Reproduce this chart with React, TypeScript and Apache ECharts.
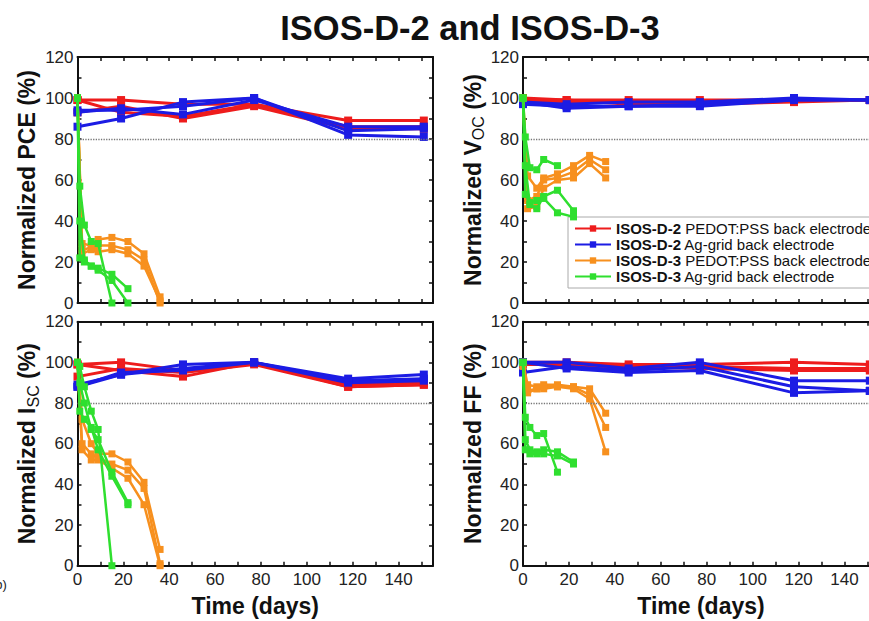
import React, { useEffect, useRef } from 'react';
import * as echarts from 'echarts';

// Time points (days)
const d2Days = [0, 19, 46, 77, 118, 151];
const d3PedotDays = [0, 2, 6, 9, 15, 22, 29, 36];
const d3AgDays = [0, 1, 3, 6, 9, 15, 22];

const groupNames = [
  'ISOS-D-2 PEDOT:PSS back electrode',
  'ISOS-D-2 Ag-grid back electrode',
  'ISOS-D-3 PEDOT:PSS back electrode',
  'ISOS-D-3 Ag-grid back electrode',
];
const groupColors = ['#ee1c1c', '#1c1ce4', '#f7901e', '#2fdf2f'];

// Normalized PCE (%)
const pceD2Pedot = [[99, 99, 97, 97, 89, 89], [99, 93, 91, 97, 86, 86], [93, 96, 90, 96, 85, 85]];
const pceD2Ag = [[86, 90, 98, 100, 82, 81], [94, 94, 96, 100, 84, 85], [93, 95, 92, 99, 86, 86]];
const pceD3Pedot = [[100, 29, 28, 31, 32, 30, 24, 3], [100, 26, 27, 28, 28, 26, 21, 0], [100, 24, 26, 25, 26, 24, 18, 1]];
const pceD3Ag = [[100, 57, 38, 30, 29, 0], [100, 40, 21, 18, 17, 14, 7], [100, 22, 20, 18, 16, 11, 0]];

// Normalized Voc (%)
const vocD2Pedot = [[100, 99, 99, 99, 99, 99], [99, 98, 98, 98, 99, 99], [99, 99, 97, 97, 98, 99]];
const vocD2Ag = [[98, 95, 96, 96, 99, 99], [97, 96, 96, 97, 99, 99], [98, 97, 98, 98, 100, 99]];
const vocD3Pedot = [[100, 62, 56, 61, 63, 67, 72, 69], [100, 50, 52, 60, 61, 64, 70, 65], [100, 46, 47, 56, 60, 61, 68, 61]];
const vocD3Ag = [[100, 81, 66, 65, 70, 67], [100, 67, 48, 46, 52, 55, 45], [100, 53, 49, 50, 51, 44, 42]];

// Normalized Isc (%)
const iscD2Pedot = [[99, 100, 96, 100, 89, 90], [99, 96, 93, 100, 88, 89], [93, 97, 95, 99, 88, 89]];
const iscD2Ag = [[88, 94, 99, 100, 92, 94], [89, 94, 97, 100, 91, 92], [88, 95, 96, 100, 90, 91]];
const iscD3Pedot = [[100, 72, 60, 55, 55, 51, 41, 8], [100, 60, 55, 53, 50, 47, 38, 1], [100, 57, 52, 52, 48, 43, 30, 0]];
const iscD3Ag = [[100, 98, 88, 76, 67, 0], [100, 90, 80, 67, 62, 46, 31], [100, 76, 72, 68, 57, 44, 30]];

// Normalized FF (%)
const ffD2Pedot = [[100, 100, 99, 99, 100, 99], [99, 99, 97, 98, 97, 97], [100, 99, 98, 97, 96, 96]];
const ffD2Ag = [[100, 100, 97, 100, 91, 91], [95, 98, 96, 98, 88, 86], [100, 97, 95, 96, 85, 86]];
const ffD3Pedot = [[100, 89, 88, 89, 89, 88, 87, 75], [98, 86, 87, 88, 88, 88, 84, 68], [100, 85, 87, 87, 88, 87, 82, 56]];
const ffD3Ag = [[100, 73, 68, 64, 65, 46], [100, 62, 57, 56, 57, 56, 51], [100, 57, 55, 55, 55, 54, 50]];

const yNames = [
  'Normalized PCE (%)',
  'Normalized V{sub|OC} (%)',
  'Normalized I{sub|SC} (%)',
  'Normalized FF (%)',
];
const xName = 'Time (days)';
const titleText = 'ISOS-D-2 and ISOS-D-3';

const FONT = '"Liberation Sans", Arial, sans-serif';

export default function App() {
  const ref = useRef<HTMLDivElement>(null);
  useEffect(() => {
    document.body.style.margin = '0';
    if (!ref.current) return;
    const chart = echarts.init(ref.current, null, { renderer: 'svg' });

    const panels = [
      [pceD2Pedot, pceD2Ag, pceD3Pedot, pceD3Ag],
      [vocD2Pedot, vocD2Ag, vocD3Pedot, vocD3Ag],
      [iscD2Pedot, iscD2Ag, iscD3Pedot, iscD3Ag],
      [ffD2Pedot, ffD2Ag, ffD3Pedot, ffD3Ag],
    ];
    const groupDays = [d2Days, d2Days, d3PedotDays, d3AgDays];

    const grids = [
      { left: 77.5, top: 57, width: 355.5, height: 246 },
      { left: 523, top: 57, width: 356, height: 246 },
      { left: 77.5, top: 321.7, width: 355.5, height: 244 },
      { left: 523, top: 321.7, width: 356, height: 244 },
    ].map((g) => ({ ...g, containLabel: false, outerBoundsMode: 'none' }));

    const axisLine = { show: true, onZero: false, lineStyle: { color: '#111', width: 2 } };
    const axisTick = { show: true, inside: true, length: 4, lineStyle: { color: '#111', width: 1.5 } };

    const xAxes: any[] = [];
    const yAxes: any[] = [];
    grids.forEach((_, p) => {
      const bottom = p >= 2;
      xAxes.push({
        type: 'value', gridIndex: p, position: 'bottom', min: 0, max: 155, interval: 10,
        axisLine, axisTick, splitLine: { show: false },
        axisLabel: {
          show: bottom, fontSize: 17, color: '#222', fontFamily: FONT, margin: 5,
          formatter: (v: number) => (v % 20 === 0 ? String(v) : ''),
        },
        name: bottom ? xName : '', nameLocation: 'middle', nameGap: 29,
        nameTextStyle: { fontSize: 23, fontWeight: 'bold', color: '#111', fontFamily: FONT },
      });
      xAxes.push({
        type: 'value', gridIndex: p, position: 'top', min: 0, max: 155, interval: 10,
        axisLine, axisTick, splitLine: { show: false }, axisLabel: { show: false },
      });
      yAxes.push({
        type: 'value', gridIndex: p, position: 'left', min: 0, max: 120, interval: 10,
        axisLine, axisTick, splitLine: { show: false },
        axisLabel: {
          fontSize: 17, color: '#222', fontFamily: FONT, margin: 4,
          formatter: (v: number) => (v % 20 === 0 ? String(v) : ''),
        },
        name: yNames[p], nameLocation: 'middle', nameGap: 29,
        nameTextStyle: {
          fontSize: 23, fontWeight: 'bold', color: '#111', fontFamily: FONT, lineHeight: 28,
          rich: {
            sub: { fontSize: 16, fontWeight: 'normal', color: '#111', fontFamily: FONT, lineHeight: 16, verticalAlign: 'bottom' },
          },
        },
      });
      yAxes.push({
        type: 'value', gridIndex: p, position: 'right', min: 0, max: 120, interval: 10,
        axisLine, axisTick, splitLine: { show: false }, axisLabel: { show: false },
      });
    });

    const series: any[] = [];
    panels.forEach((groups, p) => {
      groups.forEach((devices, g) => {
        devices.forEach((vals, k) => {
          const s: any = {
            type: 'line',
            name: groupNames[g],
            xAxisIndex: p * 2,
            yAxisIndex: p * 2,
            data: vals.map((v, i) => [groupDays[g][i], v]),
            symbol: 'rect',
            symbolSize: g < 2 ? 8 : 7,
            showSymbol: true,
            lineStyle: { width: g < 2 ? 3 : 2.5, color: groupColors[g] },
            itemStyle: { color: groupColors[g] },
            z: 2 + g,
          };
          if (g === 0 && k === 0) {
            s.markLine = {
              silent: true, symbol: 'none', label: { show: false },
              lineStyle: { color: '#777', type: 'dotted', width: 1.3 },
              data: [{ yAxis: 80 }],
            };
          }
          series.push(s);
        });
      });
    });

    chart.setOption({
      animation: false,
      backgroundColor: '#fff',
      grid: grids,
      xAxis: xAxes,
      yAxis: yAxes,
      legend: {
        data: groupNames,
        orient: 'vertical',
        left: 568,
        top: 217,
        padding: [4, 30, 4, 6],
        itemWidth: 36,
        itemHeight: 8,
        itemGap: 1,
        backgroundColor: '#fff',
        borderColor: '#aaa',
        borderWidth: 1,
        borderRadius: 0,
        selectedMode: false,
        textStyle: {
          fontSize: 15, color: '#111', fontFamily: FONT,
          rich: { b: { fontSize: 15, fontWeight: 'bold', color: '#111', fontFamily: FONT } },
        },
        formatter: (name: string) => {
          const i = name.indexOf(' ');
          return `{b|${name.slice(0, i)}}${name.slice(i)}`;
        },
      },
      graphic: [
        {
          type: 'text', x: 470, y: 28,
          style: { text: titleText, fontSize: 34.5, fontWeight: 'bold', fill: '#111', fontFamily: FONT, textAlign: 'center', textVerticalAlign: 'middle' },
        },
        {
          type: 'text', x: -9, y: 584,
          style: { text: '(b)', fontSize: 13, fill: '#222', fontFamily: FONT, textAlign: 'left', textVerticalAlign: 'middle' },
        },
      ],
      series,
    });
    return () => chart.dispose();
  }, []);
  return <div ref={ref} style={{ width: 869, height: 621 }} />;
}
